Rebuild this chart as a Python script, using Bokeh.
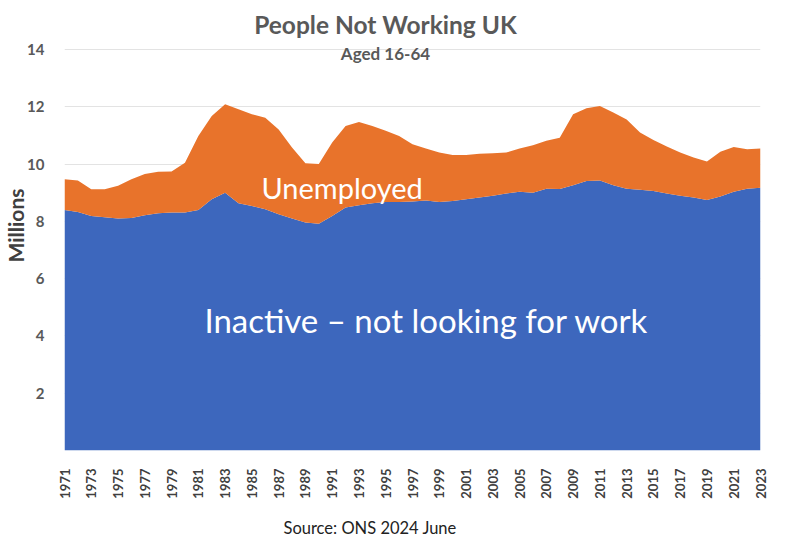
import math
from bokeh.plotting import figure
from bokeh.models import ColumnDataSource, FixedTicker, Label, Title
from bokeh.embed import file_html
from bokeh.resources import INLINE

years = list(range(1971, 2024))
inactive = [8.40, 8.33, 8.19, 8.14, 8.10, 8.12, 8.21, 8.28, 8.31, 8.31,
            8.40, 8.77, 9.00, 8.63, 8.54, 8.42, 8.25, 8.10, 7.96, 7.92,
            8.19, 8.48, 8.56, 8.63, 8.68, 8.68, 8.69, 8.73, 8.68, 8.71,
            8.77, 8.83, 8.89, 8.97, 9.03, 9.00, 9.14, 9.13, 9.26, 9.41,
            9.43, 9.26, 9.14, 9.10, 9.06, 8.97, 8.89, 8.83, 8.75, 8.87,
            9.03, 9.14, 9.17]
unemployed = [1.07, 1.10, 0.93, 0.98, 1.14, 1.35, 1.44, 1.45, 1.43, 1.74,
              2.58, 2.91, 3.09, 3.28, 3.20, 3.20, 2.96, 2.48, 2.07, 2.08,
              2.56, 2.85, 2.91, 2.70, 2.48, 2.30, 2.00, 1.81, 1.72, 1.61,
              1.55, 1.53, 1.49, 1.43, 1.51, 1.66, 1.67, 1.79, 2.48, 2.54,
              2.60, 2.54, 2.42, 2.00, 1.78, 1.64, 1.51, 1.40, 1.34, 1.56,
              1.57, 1.38, 1.37]
y_ticks = [2, 4, 6, 8, 10, 12, 14]
x_ticks = years[::2]

BLUE = "#3D67BD"
ORANGE = "#E8732B"
FONT = "Lato"

source = ColumnDataSource(dict(year=years, inactive=inactive, unemployed=unemployed))

# frame extends above 14 so that the titles can sit inside it (14 units = 401 px)
p = figure(frame_width=696, frame_height=450, output_backend="svg", toolbar_location=None,
           x_range=(1971, 2023), y_range=(0, 450 * 14 / 401), title=None,
           min_border_left=56, min_border_right=10, min_border_top=0, min_border_bottom=79)
p.varea_stack(["inactive", "unemployed"], x="year", color=[BLUE, ORANGE], source=source)

p.outline_line_color = None
p.xgrid.grid_line_color = None
p.ygrid.grid_line_color = "#E3E3E3"
p.ygrid.ticker = FixedTicker(ticks=y_ticks)

p.yaxis.ticker = FixedTicker(ticks=y_ticks)
p.yaxis.axis_line_color = None
p.yaxis.major_tick_line_color = None
p.yaxis.minor_tick_line_color = None
p.yaxis.major_label_standoff = 14
p.yaxis.major_label_text_font = FONT
p.yaxis.major_label_text_font_style = "bold"
p.yaxis.major_label_text_font_size = "15px"
p.yaxis.major_label_text_color = "#595959"
p.yaxis.axis_label = "Millions"
p.yaxis.axis_label_standoff = -4
p.yaxis.axis_label_text_font = FONT
p.yaxis.axis_label_text_font_style = "bold"
p.yaxis.axis_label_text_font_size = "21px"
p.yaxis.axis_label_text_color = "#404040"

p.xaxis.ticker = FixedTicker(ticks=x_ticks)
p.xaxis.axis_line_color = None
p.xaxis.major_tick_line_color = None
p.xaxis.minor_tick_line_color = None
p.xaxis.major_label_orientation = math.pi / 2
p.xaxis.major_label_standoff = 12
p.xaxis.major_label_text_font = FONT
p.xaxis.major_label_text_font_style = "bold"
p.xaxis.major_label_text_font_size = "13px"
p.xaxis.major_label_text_color = "#404040"

# Titles (screen units relative to the frame's lower-left corner)
p.add_layout(Label(x=321, y=426, x_units="screen", y_units="screen", text="People Not Working UK",
                   text_align="center", text_baseline="middle", text_font=FONT,
                   text_font_style="bold", text_font_size="24.5px", text_color="#595959"))
p.add_layout(Label(x=321, y=397, x_units="screen", y_units="screen", text="Aged 16-64",
                   text_align="center", text_baseline="middle", text_font=FONT,
                   text_font_style="bold", text_font_size="17px", text_color="#595959"))
p.add_layout(Title(text="Source: ONS 2024 June", align="left", offset=219, standoff=28,
                   text_font=FONT, text_font_style="normal", text_font_size="16.5px",
                   text_color="#222222"), "below")

# In-area labels
p.add_layout(Label(x=1991.74, y=9.18, text="Unemployed", text_align="center",
                   text_baseline="alphabetic", text_font=FONT, text_font_size="29px",
                   text_color="white"))
p.add_layout(Label(x=1998.05, y=4.54, text="Inactive \u2013 not looking for work", text_align="center",
                   text_baseline="alphabetic", text_font=FONT, text_font_size="33px",
                   text_color="white"))

open("out.html", "w").write(file_html(p, INLINE))
